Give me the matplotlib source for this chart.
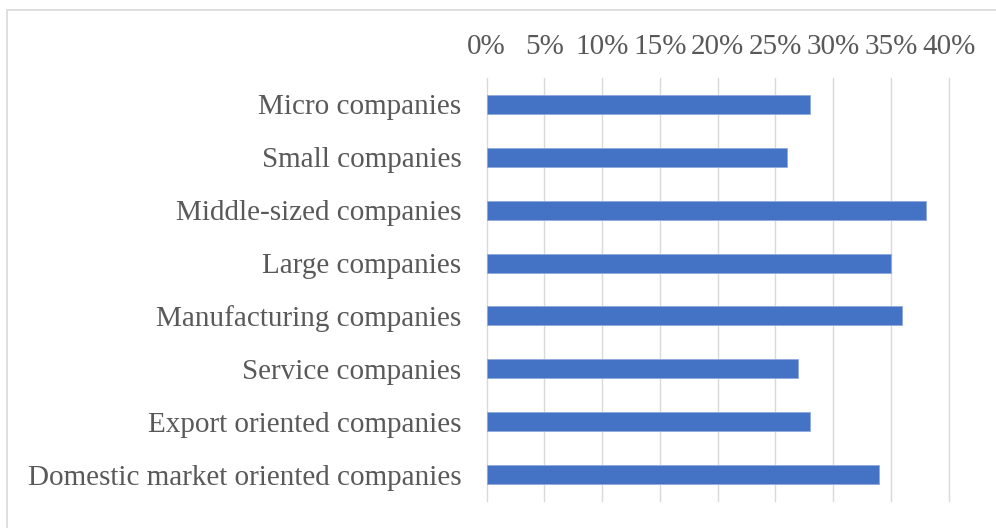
import matplotlib.pyplot as plt
from matplotlib.patches import Rectangle
from matplotlib.ticker import FuncFormatter

categories = [
    "Micro companies",
    "Small companies",
    "Middle-sized companies",
    "Large companies",
    "Manufacturing companies",
    "Service companies",
    "Export oriented companies",
    "Domestic market oriented companies",
]
shares = [28, 26, 38, 35, 36, 27, 28, 34]
ticks = [0, 5, 10, 15, 20, 25, 30, 35, 40]

plt.rcParams['font.family'] = ['Liberation Serif', 'DejaVu Serif']
text_color = '#595959'
grid_color = '#d9d9d9'

W, H = 996, 528
fig = plt.figure(figsize=(W / 100, H / 100), dpi=100)
ax = fig.add_axes([486.5 / W, 1 - 501 / H, (948.7 - 486.5) / W, (501 - 78) / H])

# outer chart frame (right/bottom edges fall outside the image)
fig.patches.append(Rectangle((7 / W, -0.1), 1.2, 1.1 - 10 / H,
                             transform=fig.transFigure, fill=False,
                             edgecolor=grid_color, linewidth=1.2))

y = range(len(categories))
ax.barh(y, shares, height=0.36, color='#4472C4', edgecolor='#8faadc',
        linewidth=0.6, zorder=3)

ax.set_ylim(len(categories) - 0.5, -0.5)
ax.set_xlim(0, 40)
ax.set_yticks(list(y))
ax.set_yticklabels(categories)
ax.set_xticks(ticks)
ax.xaxis.set_major_formatter(FuncFormatter(lambda v, p: f"{v:.0f}%"))
ax.xaxis.tick_top()

ax.grid(axis='x', color=grid_color, linewidth=1.0, zorder=0)
for gl in ax.get_xgridlines():
    gl.set_clip_on(False)
for s in ax.spines.values():
    s.set_visible(False)
ax.tick_params(axis='both', length=0, labelsize=21, labelcolor=text_color)
ax.tick_params(axis='x', pad=13)
ax.tick_params(axis='y', pad=18)

fig.savefig('out.png', dpi=100)
